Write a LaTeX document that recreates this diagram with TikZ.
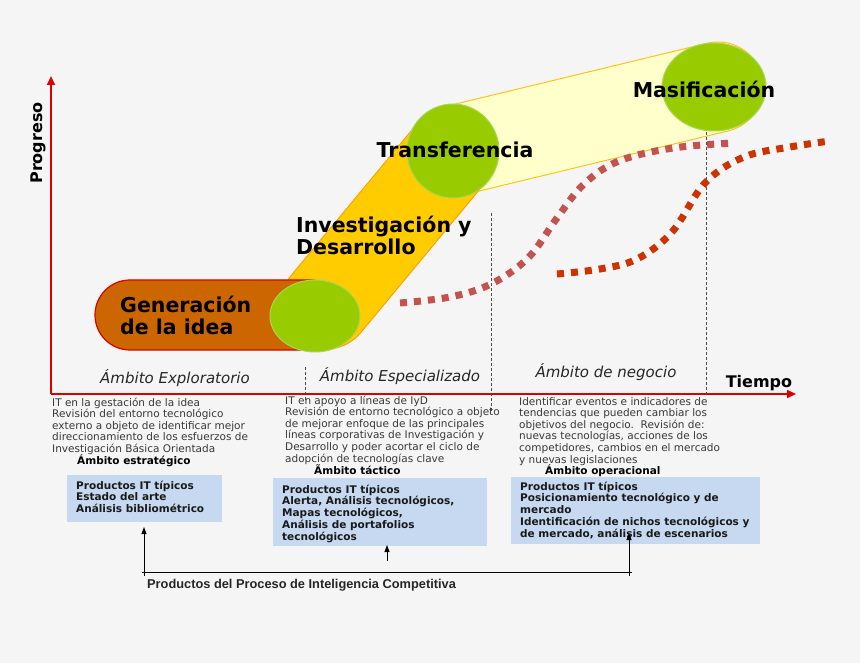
\documentclass[tikz,border=0pt]{standalone}
\usepackage{fontspec}
\setmainfont{DejaVu Sans}
\newfontfamily\arialf{Liberation Sans}
\usetikzlibrary{arrows.meta}
\definecolor{bg}{HTML}{F5F5F5}
\definecolor{axisred}{HTML}{DD0000}
\definecolor{pillfill}{HTML}{CC6600}
\definecolor{yfill}{HTML}{FFCC00}
\definecolor{yborder}{HTML}{FF9900}
\definecolor{lfill}{HTML}{FFFFCC}
\definecolor{lborder}{HTML}{FFC000}
\definecolor{gfill}{HTML}{99CC00}
\definecolor{gborder}{HTML}{A8D65A}
\definecolor{pinkc}{HTML}{C4524F}
\definecolor{redc}{HTML}{CC3300}
\definecolor{boxblue}{HTML}{C6D9F0}
\definecolor{smalltxt}{HTML}{383838}
\tikzset{
  axis/.style={draw=axisred, line width=2.4pt, -{Triangle[length=9pt,width=8pt]}},
  circ/.style={fill=gfill, draw=gborder, line width=1pt},
  biglbl/.style={font=\fontsize{20.5}{22}\selectfont\bfseries, text=black, inner sep=0pt, align=left},
  axlbl/.style={font=\fontsize{16}{18}\selectfont\bfseries, text=black, inner sep=0pt},
  ambito/.style={font=\fontsize{15}{16}\selectfont\itshape, text=black!85, inner sep=0pt},
  smallblk/.style={font=\fontsize{10.5}{11.6}\selectfont, text=smalltxt, inner sep=0pt, align=left, anchor=north west},
  boldhd/.style={font=\fontsize{10.5}{12}\selectfont\bfseries, text=black, inner sep=0pt, anchor=west},
  boxtxt/.style={font=\fontsize{10.5}{11.9}\selectfont\bfseries, text=black!90, inner sep=0pt, align=left, anchor=north west},
  bluebox/.style={fill=boxblue, draw=none},
  dotcurve/.style={line width=7pt, dash pattern=on 7pt off 7pt},
  vdash/.style={draw=black!70, line width=0.7pt, dash pattern=on 3pt off 2pt},
  barrow/.style={draw=black, line width=0.9pt, -{Triangle[length=7pt,width=5pt]}}
}
\begin{document}
\begin{tikzpicture}[x=1pt,y=-1pt]
\path[fill=bg] (0,0) rectangle (860,663);
\useasboundingbox (0,0) rectangle (860,663);

% bands
\coordinate (b1) at (326,304);
\coordinate (b2) at (453,151);
\coordinate (b3) at (718,87);
\draw[line width=91pt, color=lborder, line cap=round] (b2) -- (b3);
\draw[line width=89pt, color=lfill, line cap=round] (b2) -- (b3);
\draw[line width=91pt, color=yborder, line cap=round] (b1) -- (b2);
\draw[line width=89pt, color=yfill, line cap=round] (b1) -- (b2);

% pill
\draw[fill=pillfill, draw=axisred, line width=1.2pt, rounded corners=35pt] (95,280) rectangle (345,350);

% dashed verticals
\draw[vdash] (305,367) -- (305,400);
\draw[vdash] (491,213) -- (491,413);
\draw[vdash] (706,127) -- (706,393);

% circles
\draw[circ] (315,316) ellipse [x radius=45, y radius=36];
\draw[circ] (453,151) ellipse [x radius=46, y radius=47];
\draw[circ] (714,87) ellipse [x radius=52, y radius=44];

% dotted curves
\draw[dotcurve, pinkc] plot[smooth, tension=0.6] coordinates {(400,303) (450,297) (491,284) (528,258) (557,218) (584,184) (619,161) (673,148) (734,143)};
\draw[dotcurve, redc] plot[smooth, tension=0.6] coordinates {(557,274) (600,269) (637,259) (672,232) (705,183) (744,157) (790,147) (830,141)};

% axes
\coordinate (origin) at (51,394);
\coordinate (ytop) at (51,76);
\coordinate (xend) at (796,394);
\draw[axis] (origin) -- (ytop);
\draw[axis] (origin) -- (xend);

% labels
\node[biglbl, anchor=west] (gen) at (120,315) {Generación\\de la idea};
\node[biglbl, anchor=west] (inv) at (296,235) {Investigación y\\Desarrollo};
\node[biglbl] (tra) at (455,150) {Transferencia};
\node[biglbl] (mas) at (704,89) {Masificación};
\node[axlbl, rotate=90] (prog) at (38,143) {Progreso};
\node[axlbl] (tiem) at (759,383) {Tiempo};
\node[ambito] (a1) at (175,378) {Ámbito Exploratorio};
\node[ambito] (a2) at (400,376) {Ámbito Especializado};
\node[ambito] (a3) at (606,372) {Ámbito de negocio};

% text blocks
\node[smallblk] (t1) at (52,397.5) {IT en la gestación de la idea\\Revisión del entorno tecnológico\\externo a objeto de identificar mejor\\direccionamiento de los esfuerzos de\\Investigación Básica Orientada};
\node[smallblk] (t2) at (285,395.5) {IT en apoyo a líneas de IyD\\Revisión de entorno tecnológico a objeto\\de mejorar enfoque de las principales\\líneas corporativas de Investigación y\\Desarrollo y poder acortar el ciclo de\\adopción de tecnologías clave};
\node[smallblk] (t3) at (519,397) {Identificar eventos e indicadores de\\tendencias que pueden cambiar los\\objetivos del negocio.\ \ Revisión de:\\nuevas tecnologías, acciones de los\\competidores, cambios en el mercado\\y nuevas legislaciones};

\node[boldhd] (h1) at (77,461) {Ámbito estratégico};
\node[boldhd] (h2) at (314,470) {Ãmbito táctico};
\node[boldhd] (h3) at (545,471) {Ámbito operacional};

% blue boxes
\path[bluebox] (67,475) rectangle (222,522);
\path[bluebox] (273,478) rectangle (487,546);
\path[bluebox] (511,477) rectangle (760,544);
\node[boxtxt] (p1) at (76,480.5) {Productos IT típicos\\Estado del arte\\Análisis bibliométrico};
\node[boxtxt] (p2) at (282,484.5) {Productos IT típicos\\Alerta, Análisis tecnológicos,\\Mapas tecnológicos,\\Análisis de portafolios\\tecnológicos};
\node[boxtxt] (p3) at (520,481.5) {Productos IT típicos\\Posicionamiento tecnológico y de\\mercado\\Identificación de nichos tecnológicos y\\de mercado, análisis de escenarios};

% bottom bracket
\coordinate (bl) at (142,572);
\coordinate (br) at (632,572);
\coordinate (a1b) at (144,576);
\coordinate (a1t) at (144,527);
\coordinate (a2b) at (387,561);
\coordinate (a2t) at (387,545);
\coordinate (a3b) at (629,576);
\coordinate (a3t) at (629,533);
\draw[black, line width=0.9pt] (bl) -- (br);
\draw[barrow] (a1b) -- (a1t);
\draw[barrow] (a2b) -- (a2t);
\draw[barrow] (a3b) -- (a3t);
\node[font=\arialf\fontsize{12.8}{14}\selectfont\bfseries, text=black!85, inner sep=0pt, anchor=west] (prod) at (147,585) {Productos del Proceso de Inteligencia Competitiva};
\end{tikzpicture}
\end{document}
